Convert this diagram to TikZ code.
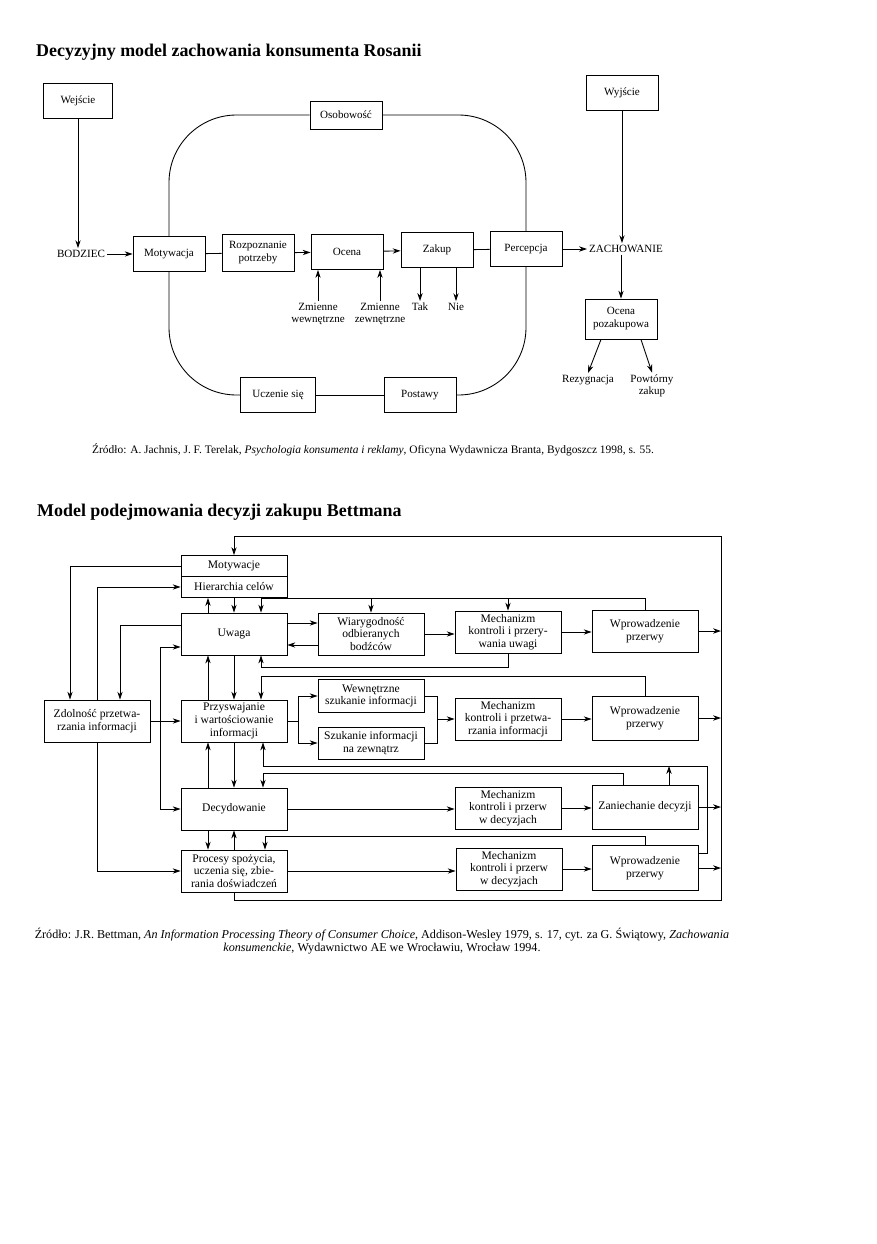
\documentclass[tikz,border=0pt]{standalone}
\usepackage{fontspec}
\setmainfont{Liberation Serif}
\usepackage{tikz}
\usetikzlibrary{arrows.meta,positioning,calc}

\tikzset{
  box/.style={draw, line width=0.5pt, align=center, inner sep=1pt},
  tbox/.style={box, font=\fontsize{6.3}{7.4}\selectfont, minimum width=1.44cm, minimum height=0.7cm},
  bbox/.style={box, font=\fontsize{6.6}{7.2}\selectfont, minimum width=2.12cm, minimum height=0.84cm},
  lbl/.style={font=\fontsize{6.3}{7.2}\selectfont, align=center, inner sep=1pt},
  tytul/.style={anchor=west, font=\fontsize{10.2}{12}\selectfont\bfseries},
  arr/.style={-{Stealth[length=4.5pt,width=3pt]}, line width=0.5pt},
  ln/.style={line width=0.5pt},
}

\begin{document}
\begin{tikzpicture}[x=0.02cm, y=-0.02cm]
    \fill[white] (0,0) rectangle (876,1244);
    \useasboundingbox (0,0) rectangle (876,1244);

    \node[tytul] (tyt1) at (30,52) {Decyzyjny model zachowania konsumenta Rosanii};

    \node[tbox, minimum width=1.38cm] (wej) at (78,101) {Wejście};
    \node[lbl] (bodz) at (81,254) {BODZIEC};
    \node[tbox] (motyw) at (169,254) {Motywacja};
    \node[tbox, minimum height=0.74cm] (rozp) at (258,253) {Rozpoznanie\\potrzeby};
    \node[tbox] (ocena) at (347,252) {Ocena};
    \node[tbox] (zakup) at (437,250) {Zakup};
    \node[tbox] (percep) at (526,249) {Percepcja};
    \node[lbl] (zach) at (626,249) {ZACHOWANIE};
    \node[tbox] (wyj) at (622,93) {Wyjście};
    \node[tbox, minimum height=0.8cm] (pozak) at (621,319) {Ocena\\pozakupowa};
    \node[lbl] (rez) at (588,380) {Rezygnacja};
    \node[lbl] (powt) at (652,386) {Powtórny\\zakup};
    \node[tbox, minimum height=0.56cm] (osob) at (346,115) {Osobowość};
    \node[tbox, minimum width=1.5cm] (uczen) at (278,395) {Uczenie się};
    \node[tbox] (postawy) at (420,395) {Postawy};
    \node[lbl] (zmw) at (318,314) {Zmienne\\wewnętrzne};
    \node[lbl] (zmz) at (380,314) {Zmienne\\zewnętrzne};
    \node[lbl] (tak) at (420,307) {Tak};
    \node[lbl] (nie) at (456,307) {Nie};

    \draw[arr] (wej.south) -- (wej.south |- bodz.north);
    \draw[arr] (bodz) -- (motyw);
    \draw[ln] (motyw) -- (rozp);
    \draw[arr] (rozp) -- (ocena);
    \draw[arr] (ocena) -- (zakup);
    \draw[ln] (zakup) -- (percep);
    \draw[arr] (percep) -- (zach);
    \draw[arr] (wyj.south) -- (wyj.south |- zach.north);
    \draw[arr] (pozak.north |- zach.south) -- (pozak.north);
    \draw[arr] ([xshift=-0.4cm]pozak.south) -- (rez.north);
    \draw[arr] ([xshift=0.4cm]pozak.south) -- (powt.north);
    \draw[arr] (zmw) -- (zmw |- ocena.south);
    \draw[arr] (zmz) -- (zmz |- ocena.south);
    \draw[arr] (tak |- zakup.south) -- (tak);
    \draw[arr] (nie |- zakup.south) -- (nie);
    \draw[ln, rounded corners=1.35cm] (osob.west) -| (motyw.north);
    \draw[ln, rounded corners=1.35cm] (motyw.south) |- (uczen.west);
    \draw[ln] (uczen) -- (postawy);
    \draw[ln, rounded corners=1.35cm] (postawy.east) -| (percep.south);
    \draw[ln, rounded corners=1.35cm] (percep.north) |- (osob.east);

    \node[anchor=west, font=\fontsize{6.5}{8}\selectfont] (zr1) at (86,450) {Źródło: A. Jachnis, J. F. Terelak, \textit{Psychologia konsumenta i reklamy}, Oficyna Wydawnicza Branta, Bydgoszcz 1998, s. 55.};

    \node[tytul] (tyt2) at (31,512) {Model podejmowania decyzji zakupu Bettmana};

    \node[bbox, minimum height=0.42cm] (mot) at (234,566) {Motywacje};
    \node[bbox, minimum height=0.42cm] (hier) at (234,587) {Hierarchia celów};
    \node[bbox] (uwaga) at (234,634) {Uwaga};
    \node[bbox] (wiar) at (371,634) {Wiarygodność\\odbieranych\\bodźców};
    \node[bbox] (mech1) at (508,632) {Mechanizm\\kontroli i przery-\\wania uwagi};
    \node[bbox] (wpr1) at (645,631) {Wprowadzenie\\przerwy};
    \node[bbox] (zdol) at (97,721) {Zdolność przetwa-\\rzania informacji};
    \node[bbox] (przysw) at (234,721) {Przyswajanie\\i wartościowanie\\informacji};
    \node[bbox, minimum height=0.66cm] (wewn) at (371,696) {Wewnętrzne\\szukanie informacji};
    \node[bbox, minimum height=0.64cm] (szuk) at (371,743) {Szukanie informacji\\na zewnątrz};
    \node[bbox] (mech2) at (508,719) {Mechanizm\\kontroli i przetwa-\\rzania informacji};
    \node[bbox, minimum height=0.88cm] (wpr2) at (645,718) {Wprowadzenie\\przerwy};
    \node[bbox] (decyd) at (234,809) {Decydowanie};
    \node[bbox] (mech3) at (508,808) {Mechanizm\\kontroli i przerw\\w decyzjach};
    \node[bbox, minimum height=0.88cm] (zan) at (645,807) {Zaniechanie decyzji};
    \node[bbox] (proc) at (234,871) {Procesy spożycia,\\uczenia się, zbie-\\rania doświadczeń};
    \node[bbox] (mech4) at (509,869) {Mechanizm\\kontroli i przerw\\w decyzjach};
    \node[bbox, minimum height=0.9cm] (wpr3) at (645,868) {Wprowadzenie\\przerwy};

    \coordinate (busR) at (721,536);
    \coordinate (busB) at (721,900);
    \coordinate (h1) at (261,598);
    \coordinate (h2) at (261,667);
    \coordinate (h3) at (261,676);
    \coordinate (h4) at (707,766);
    \coordinate (h4a) at (263,766);
    \coordinate (h5) at (263,773);
    \coordinate (h6) at (265,836);
    \coordinate (sp) at (298,721);
    \coordinate (jn) at (437,719);
    \coordinate (v2) at (160,721);

    \draw[arr] (proc.south) |- (busB) -- (busR) -| (mot.north);
    \draw[arr] (wpr1) -- (wpr1 -| busR);
    \draw[arr] (wpr2) -- (wpr2 -| busR);
    \draw[arr] (zan) -- (zan -| busR);
    \draw[arr] (wpr3) -- (wpr3 -| busR);

    \draw[arr] (wpr1.north) |- (h1) -- (h1 |- uwaga.north);
    \draw[arr] (wiar.north |- h1) -- (wiar.north);
    \draw[arr] (mech1.north |- h1) -- (mech1.north);
    \draw[arr] (hier.south) -- (uwaga.north);
    \draw[arr] ([xshift=-0.52cm]uwaga.north) -- ([xshift=-0.52cm]hier.south);
    \draw[arr] ([yshift=0.22cm]uwaga.east) -- ([yshift=0.22cm]uwaga.east -| wiar.west);
    \draw[arr] ([yshift=-0.22cm]wiar.west) -- ([yshift=-0.22cm]wiar.west -| uwaga.east);
    \draw[arr] (wiar.east) -- (wiar.east -| mech1.west);
    \draw[arr] (mech1.east) -- (mech1.east -| wpr1.west);
    \draw[arr] (mech1.south) |- (h2) -- (h2 |- uwaga.south);

    \draw[arr] (uwaga.south) -- (przysw.north);
    \draw[arr] ([xshift=-0.52cm]przysw.north) -- ([xshift=-0.52cm]uwaga.south);
    \draw[arr] (wpr2.north) |- (h3) -- (h3 |- przysw.north);
    \draw[ln] (przysw.east) -- (sp);
    \draw[arr] (sp) |- (wewn.west);
    \draw[arr] (sp) |- (szuk.west);
    \draw[ln] (wewn.east) -| (jn);
    \draw[ln] (szuk.east) -| (jn);
    \draw[arr] (jn) -- (jn -| mech2.west);
    \draw[arr] (mech2.east) -- (mech2.east -| wpr2.west);

    \draw[arr] (przysw.south) -- (decyd.north);
    \draw[arr] ([xshift=-0.52cm]decyd.north) -- ([xshift=-0.52cm]przysw.south);
    \draw[arr] ([yshift=0.3cm]wpr3.east) -| (h4) -- (h4a) -- (h4a |- przysw.south);
    \draw[arr] ([xshift=0.48cm]zan.north) -- ([xshift=0.48cm]zan.north |- h4);
    \draw[arr] ([xshift=-0.44cm]zan.north) |- (h5) -- (h5 |- decyd.north);
    \draw[arr] (decyd.east) -- (decyd.east -| mech3.west);
    \draw[arr] (mech3.east) -- (mech3.east -| zan.west);

    \draw[arr] ([xshift=-0.52cm]decyd.south) -- ([xshift=-0.52cm]proc.north);
    \draw[arr] (proc.north) -- (decyd.south);
    \draw[arr] (wpr3.north) |- (h6) -- (h6 |- proc.north);
    \draw[arr] (proc.east) -- (proc.east -| mech4.west);
    \draw[arr] (mech4.east) -- (mech4.east -| wpr3.west);

    \draw[arr] (mot.west) -| ([xshift=-0.54cm]zdol.north);
    \draw[arr] ([yshift=0.18cm]uwaga.west) -| ([xshift=0.46cm]zdol.north);
    \draw[arr] (zdol.north) |- (hier.west);
    \draw[arr] (zdol.south) |- (proc.west);
    \draw[arr] (zdol.east) -- (przysw.west);
    \draw[arr] (v2) |- ([yshift=-0.26cm]uwaga.west);
    \draw[arr] (v2) |- (decyd.west);

    \node[align=center, font=\fontsize{6.9}{7.6}\selectfont] (zr2) at (382,941) {Źródło: J.R. Bettman, \textit{An Information Processing Theory of Consumer Choice}, Addison-Wesley 1979, s. 17, cyt. za G. Świątowy, \textit{Zachowania}\\\textit{konsumenckie}, Wydawnictwo AE we Wrocławiu, Wrocław 1994.};
\end{tikzpicture}
\end{document}
